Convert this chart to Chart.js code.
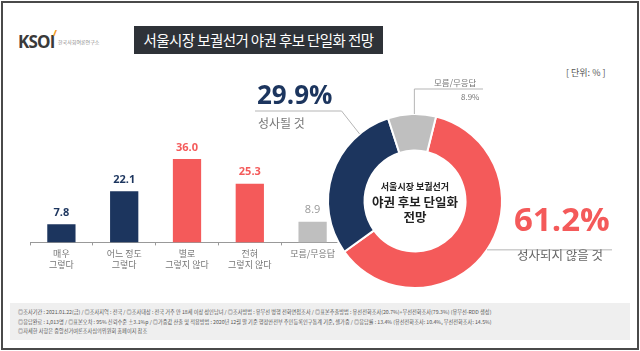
<html>
<head>
<meta charset="utf-8">
<script src="https://cdn.jsdelivr.net/npm/chart.js@4.4.0/dist/chart.umd.min.js"></script>
<style>
  body { margin: 0; width: 640px; height: 351px; overflow: hidden; background: #fff;
         font-family: "Noto Sans CJK KR", "Noto Sans", sans-serif; }
  .frame { position: absolute; left: 1px; top: 1px; width: 634px; height: 345px;
           border: 2px solid #4a4a4a; }
  .abs { position: absolute; white-space: nowrap; }
  .title { left: 134px; top: 26px; width: 249px; height: 28px; background: #2e3238; color: #fff;
           font-size: 14.5px; line-height: 28px; text-align: center; letter-spacing: -0.6px; }
  .logo { left: 18px; top: 30px; font-family: "Open Sans", sans-serif; font-weight: 700;
          font-size: 17px; color: #3a3a3a; letter-spacing: -0.8px; }
  .logo b { color: #f39a1e; font-size: 9px; position: absolute; left: 35px; top: -4px; }
  .logosub { left: 58px; top: 38px; font-size: 5px; color: #888; }
  .unit { left: 566px; top: 66px; font-size: 9px; color: #555; }
  .footer { left: 10px; top: 303px; width: 620px; height: 37px; background: #efefef; }
  .foot { left: 18px; font-size: 5.2px; color: #555; }
  #barWrap { position: absolute; left: 30px; top: 128px; width: 314px; height: 145px; }
  #pieWrap { position: absolute; left: 240px; top: 60px; width: 390px; height: 240px; }
  .big { font-weight: 700; font-family: "Open Sans", "Noto Sans", sans-serif; }
  .center { left: 355px; width: 120px; text-align: center; font-weight: 700; color: #222; }
</style>
</head>
<body>
<div class="frame"></div>
<div class="abs logo">KSOI<b>/</b></div>
<div class="abs logosub">한국사회여론연구소</div>
<div class="abs title">서울시장 보궐선거 야권 후보 단일화 전망</div>
<div class="abs unit">[ 단위: % ]</div>

<div id="barWrap"><canvas id="barChart"></canvas></div>
<div id="pieWrap"><canvas id="pieChart"></canvas></div>

<div class="abs big" style="left:257px; top:76px; font-size:26px; color:#1c355e;">29.9%</div>
<div class="abs" style="left:258px; top:114px; font-size:12px; color:#777;">성사될 것</div>
<div class="abs" style="left:434px; top:76px; font-size:8.5px; color:#777;">모름/무응답</div>
<div class="abs" style="left:461px; top:91px; font-size:8px; color:#777;">8.9%</div>
<div class="abs big" style="left:514px; top:196px; font-size:33px; color:#f45a5a;">61.2%</div>
<div class="abs" style="left:517px; top:245px; font-size:12.5px; color:#666;">성사되지 않을 것</div>

<div class="abs center" style="top:180px; font-size:9px;">서울시장 보궐선거</div>
<div class="abs center" style="top:192px; font-size:12.5px;">야권 후보 단일화</div>
<div class="abs center" style="top:207px; font-size:12.5px;">전망</div>

<div class="abs footer"></div>
<div class="abs foot" style="top:308px;">◎조사기간 : 2021.01.22(금) / ◎조사지역 : 전국 / ◎조사대상 : 전국 거주 만 18세 이상 성인남녀 / ◎조사방법 : 유무선 병행 전화면접조사 / ◎표본추출방법 : 유선전화조사(20.7%)+무선전화조사(79.3%) (유무선-RDD 생성)</div>
<div class="abs foot" style="top:318px;">◎응답완료 : 1,013명 / ◎표본오차 : 95% 신뢰수준 ±3.1%p / ◎가중값 산출 및 적용방법 : 2020년 12월 말 기준 행정안전부 주민등록인구통계 기준, 셀가중 / ◎응답률 : 13.4% (유선전화조사: 10.4%, 무선전화조사: 14.5%)</div>
<div class="abs foot" style="top:327px;">◎자세한 사항은 중앙선거여론조사심의위원회 홈페이지 참조</div>

<script>
  // bar chart data
  const barLabels = [
    ["매우", "그렇다"],
    ["어느 정도", "그렇다"],
    ["별로", "그렇지 않다"],
    ["전혀", "그렇지 않다"],
    "모름/무응답",
  ];
  const barValues = [7.8, 22.1, 36.0, 25.3, 8.9];

  // doughnut data
  const pieLabels = ["성사되지 않을 것", "성사될 것", "모름/무응답"];
  const pieValues = [61.2, 29.9, 8.9];

  // colors
  const navy = "#1c355e";
  const red = "#f45a5a";
  const gray = "#bfbfbf";
  const barColors = [navy, navy, red, red, gray];
  const valueColors = [navy, navy, red, red, "#999"];

  const fontKr = "'Noto Sans CJK KR', 'Noto Sans', sans-serif";

  // value labels above bars
  const barValuePlugin = {
    id: "barValues",
    afterDatasetsDraw(chart) {
      const ctx = chart.ctx;
      const meta = chart.getDatasetMeta(0);
      ctx.save();
      ctx.textAlign = "center";
      ctx.textBaseline = "bottom";
      meta.data.forEach((bar, i) => {
        ctx.fillStyle = valueColors[i];
        ctx.font = (i == 4 ? "" : "bold ") + "11px 'Open Sans', sans-serif";
        ctx.fillText(barValues[i].toFixed(1), bar.x, bar.y - 6);
      });
      ctx.restore();
    },
  };

  new Chart(document.getElementById("barChart"), {
    type: "bar",
    data: {
      labels: barLabels,
      datasets: [{
        data: barValues,
        backgroundColor: barColors,
        barPercentage: 0.45,
        categoryPercentage: 1,
      }],
    },
    options: {
      responsive: true,
      maintainAspectRatio: false,
      animation: false,
      layout: { padding: { top: 10, left: 0, right: 0 } },
      plugins: { legend: { display: false }, tooltip: { enabled: false } },
      scales: {
        y: { display: false, min: 0, max: 45 },
        x: {
          border: { display: true, color: "#999" },
          grid: { display: true, drawOnChartArea: false, drawTicks: true, tickLength: 3, color: "#999", offset: true },
          ticks: { color: "#777", font: { family: fontKr, size: 9 }, padding: 3 },
        },
      },
    },
    plugins: [barValuePlugin],
  });

  // leader lines for the doughnut
  const leaderPlugin = {
    id: "leaders",
    afterDatasetsDraw(chart) {
      const ctx = chart.ctx;
      const arcs = chart.getDatasetMeta(0).data;
      function edgePoint(arc, frac) {
        const a = arc.startAngle + (arc.endAngle - arc.startAngle) * frac;
        return { x: arc.x + Math.cos(a) * arc.outerRadius, y: arc.y + Math.sin(a) * arc.outerRadius };
      }
      ctx.save();
      ctx.strokeStyle = "#b5b5b5";
      ctx.lineWidth = 1;
      // red: horizontal line to the right
      let p = edgePoint(arcs[0], 0.5);
      ctx.beginPath();
      ctx.moveTo(p.x, p.y);
      ctx.lineTo(372, p.y);
      ctx.stroke();
      // navy: diagonal then horizontal to the left
      p = edgePoint(arcs[1], 0.8);
      ctx.beginPath();
      ctx.moveTo(p.x, p.y);
      ctx.lineTo(p.x - 18, 51);
      ctx.lineTo(15, 51);
      ctx.stroke();
      // gray: vertical then horizontal to the right
      p = edgePoint(arcs[2], 0.55);
      ctx.beginPath();
      ctx.moveTo(p.x, p.y);
      ctx.lineTo(p.x, 29);
      ctx.lineTo(243, 29);
      ctx.stroke();
      ctx.restore();
    },
  };

  new Chart(document.getElementById("pieChart"), {
    type: "doughnut",
    data: {
      labels: pieLabels,
      datasets: [{
        data: pieValues,
        backgroundColor: [red, navy, gray],
        borderColor: "#fff",
        borderWidth: 2,
      }],
    },
    options: {
      responsive: true,
      maintainAspectRatio: false,
      animation: false,
      rotation: 14,
      cutout: "58%",
      layout: { padding: { left: 87, top: 53, right: 127, bottom: 11 } },
      plugins: { legend: { display: false }, tooltip: { enabled: false } },
    },
    plugins: [leaderPlugin],
  });
</script>
</body>
</html>
